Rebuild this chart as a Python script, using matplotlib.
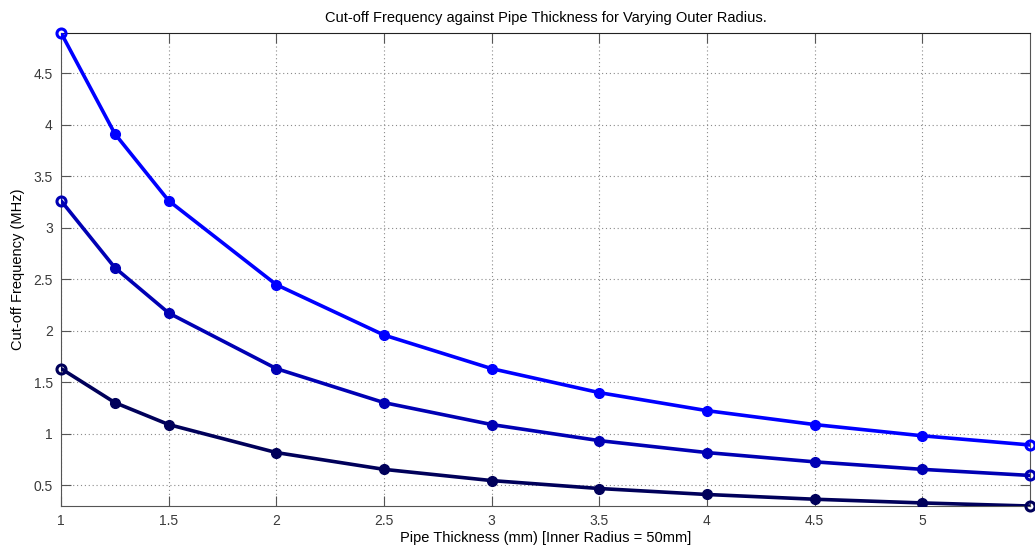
import matplotlib.pyplot as plt

plt.rcParams['font.family'] = ['Liberation Sans', 'DejaVu Sans']

# Data
thickness = [1, 1.25, 1.5, 2, 2.5, 3, 3.5, 4, 4.5, 5, 5.5]
freq_top = [4.89, 3.91, 3.26, 2.445, 1.956, 1.63, 1.397, 1.222, 1.087, 0.978, 0.889]
freq_mid = [3.26, 2.61, 2.17, 1.63, 1.30, 1.087, 0.931, 0.815, 0.725, 0.652, 0.593]
freq_low = [1.63, 1.30, 1.087, 0.815, 0.652, 0.543, 0.466, 0.408, 0.362, 0.326, 0.296]

series = [freq_top, freq_mid, freq_low]
line_colors = ['#0000ff', '#0000b4', '#00005a']

fig = plt.figure(figsize=(10.35, 5.48), dpi=100)
ax = fig.add_axes([0.059, 0.0766, 0.936, 0.8634])

for vals, c in zip(series, line_colors):
    ax.plot(thickness, vals, color=c, linewidth=2.6, marker='o', markersize=7,
            markevery=list(range(1, len(thickness) - 1)), zorder=3)
    # end points drawn as open circles
    ax.plot([thickness[0], thickness[-1]], [vals[0], vals[-1]], linestyle='none',
            marker='o', markersize=6.5, markerfacecolor='none', markeredgecolor=c,
            markeredgewidth=2.2, zorder=4, clip_on=False)

ax.set_xlim(1, 5.5)
ax.set_ylim(0.296, 4.89)
ax.set_xticks([1, 1.5, 2, 2.5, 3, 3.5, 4, 4.5, 5])
ax.set_xticklabels(['1', '1.5', '2', '2.5', '3', '3.5', '4', '4.5', '5'])
ax.set_yticks([0.5, 1, 1.5, 2, 2.5, 3, 3.5, 4, 4.5])
ax.set_yticklabels(['0.5', '1', '1.5', '2', '2.5', '3', '3.5', '4', '4.5'])

ax.grid(True, linestyle=(0, (1, 2.5)), color='#8a8a8a', linewidth=0.8)
ax.tick_params(direction='in', length=7, top=True, right=True, labelsize=10,
               labelcolor='#3a3a3a', color='#555555', pad=6)
for side in ['left', 'bottom', 'right']:
    ax.spines[side].set_color('#555555')
ax.spines['top'].set_color('#222222')

ax.set_xlabel('Pipe Thickness (mm) [Inner Radius = 50mm]', fontsize=10.5, labelpad=2)
ax.set_ylabel('Cut-off Frequency (MHz)', fontsize=10.5, labelpad=6)
ax.set_title('Cut-off Frequency against Pipe Thickness for Varying Outer Radius.',
             fontsize=10.5, pad=8)

plt.savefig('out.png', dpi=100)
